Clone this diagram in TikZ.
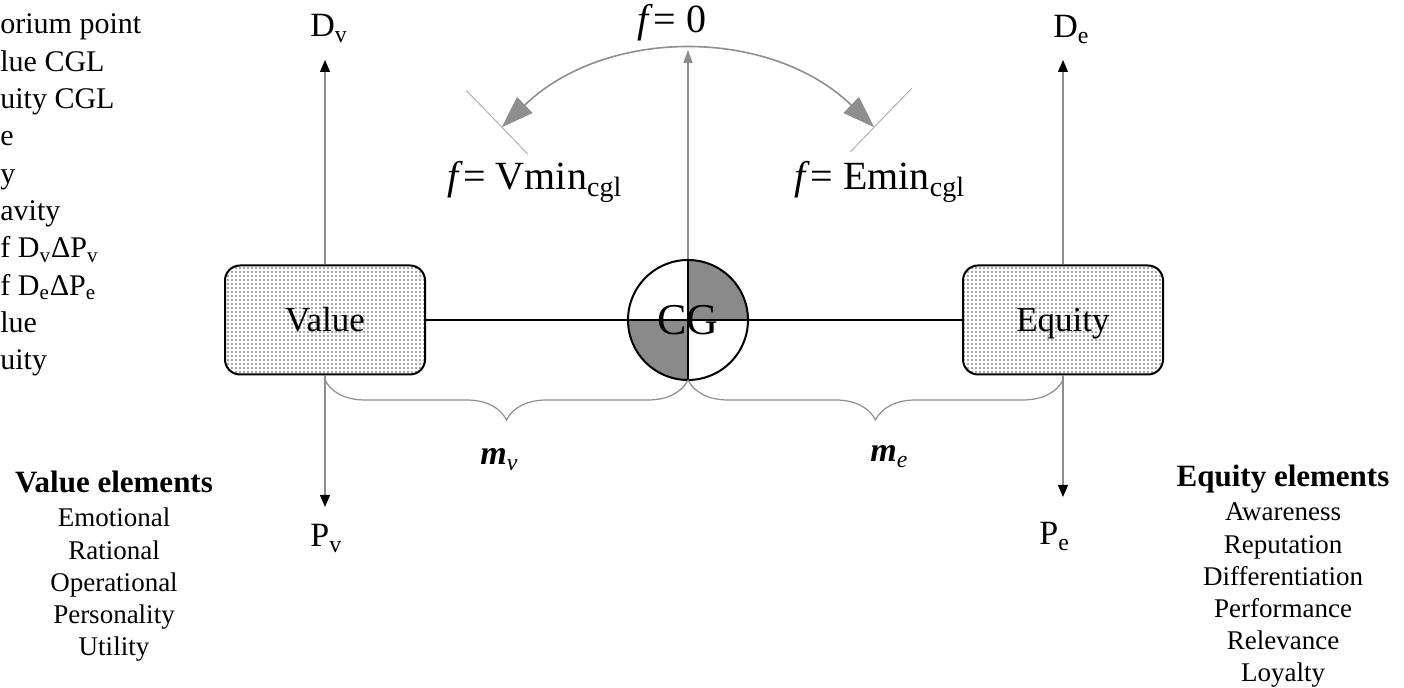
\documentclass[tikz,border=0pt]{standalone}
\usepackage{fontspec}
\setmainfont{Liberation Serif}
\usetikzlibrary{arrows.meta, positioning, patterns.meta, decorations.pathreplacing}
\definecolor{linegray}{HTML}{8E8E8E}
\definecolor{cgshade}{HTML}{8A8A8A}

\tikzset{
  massbox/.style={draw, line width=1pt, rounded corners=7.5pt,
    minimum width=100pt, minimum height=54.5pt,
    pattern={Dots[distance=2pt, radius=0.4pt]}, pattern color=black!70,
    font=\fontsize{17.5}{20}\selectfont, text height=11.5pt, text depth=0pt},
  axisarrow/.style={draw=linegray, line width=0.6pt,
    -{Triangle[length=6pt, width=5pt, color=black]}},
  swing/.style={draw=linegray, line width=0.8pt,
    {Triangle[length=16pt, width=11pt]}-{Triangle[length=16pt, width=11pt]}},
  tickline/.style={draw=linegray!70, line width=0.5pt},
  massbrace/.style={draw=linegray, line width=0.6pt,
    decorate, decoration={brace, mirror, amplitude=20pt}},
  axislabel/.style={anchor=base west, inner sep=0, font=\fontsize{17}{20}\selectfont},
  flabel/.style={anchor=base, inner sep=0, font=\fontsize{20}{24}\selectfont},
  masslabel/.style={anchor=base west, inner sep=0, font=\fontsize{17}{20}\selectfont},
  legendtext/.style={anchor=base west, inner sep=0, font=\fontsize{15}{18}\selectfont},
  elemhead/.style={anchor=base, inner sep=0, font=\bfseries\fontsize{15.5}{18}\selectfont},
  elemitem/.style={anchor=base, inner sep=0, font=\fontsize{13.5}{16}\selectfont},
}

\begin{document}
\begin{tikzpicture}[x=0.5pt, y=0.5pt]
  \useasboundingbox (0,0) rectangle (1404,688);

  % legend, cut at the left edge
  \foreach \txt [count=\i from 0] in {orium point, lue CGL, uity CGL, e, y, avity,
      {f D\textsubscript{v}ΔP\textsubscript{v}}, {f D\textsubscript{e}ΔP\textsubscript{e}}, lue, uity}
    \node[legendtext] (leg\i) at (0, 654-37.3*\i) {\txt};

  % centre of gravity
  \coordinate (cg) at (688, 368);
  \fill[cgshade] (cg) -- ++(0:30pt) arc[start angle=0, end angle=90, radius=30pt] -- cycle;
  \fill[cgshade] (cg) -- ++(180:30pt) arc[start angle=180, end angle=270, radius=30pt] -- cycle;

  % the two masses
  \node[massbox] (value) at (325, 368) {Value};
  \node[massbox] (equity) at (1063, 368) {Equity};
  \draw[line width=0.7pt] (value) -- (equity);

  \node[circle, draw, line width=1pt, minimum size=60pt, inner sep=0,
        font=\fontsize{22}{26}\selectfont] (cgc) at (cg) {CG};
  \draw[line width=0.7pt] (cgc.north) -- (cgc.south);

  % axes
  \coordinate (dv) at (325, 628);
  \coordinate (pv) at (325, 181);
  \coordinate (de) at (1063, 628);
  \coordinate (pe) at (1063, 191);
  \draw[axisarrow] (value.north) -- (dv);
  \draw[axisarrow] (value.south) -- (pv);
  \draw[axisarrow] (equity.north) -- (de);
  \draw[axisarrow] (equity.south) -- (pe);
  \node[axislabel] (dvlab) at (310, 651) {D\textsubscript{v}};
  \node[axislabel] (pvlab) at (310, 141) {P\textsubscript{v}};
  \node[axislabel] (delab) at (1053, 650) {D\textsubscript{e}};
  \node[axislabel] (pelab) at (1039, 143) {P\textsubscript{e}};

  % f swing
  \coordinate (ftop) at (688, 638);
  \draw[draw=linegray, line width=0.8pt, -{Triangle[length=6.5pt, width=4.5pt]}] (cgc.north) -- (ftop);
  \draw[swing] (cg) ++(134:134pt) arc[start angle=134, end angle=46, radius=134pt];
  \draw[tickline] (cg) ++(134:115.5pt) -- ++(134:44pt);
  \draw[tickline] (cg) ++(46:117pt) -- ++(46:44pt);
  \node[flabel] (fzero) at (672, 655) {\textit{f}= 0};
  \node[flabel] (fvmin) at (535, 498) {\textit{f}= Vmin\textsubscript{cgl}};
  \node[flabel] (femin) at (880, 498) {\textit{f}= Emin\textsubscript{cgl}};

  % moment arms
  \coordinate (vb) at (325, 308);
  \coordinate (cb) at (688, 308);
  \coordinate (eb) at (1063, 308);
  \draw[massbrace] (vb) -- (cb);
  \draw[massbrace] (cb) -- (eb);
  \node[masslabel] (mv) at (480, 223) {\textbf{\textit{m}}\textsubscript{\textit{v}}};
  \node[masslabel] (me) at (870, 226) {\textbf{\textit{m}}\textsubscript{\textit{e}}};

  % element lists
  \node[elemhead] (vhead) at (114, 195) {Value elements};
  \foreach \item [count=\i from 0] in {Emotional, Rational, Operational, Personality, Utility}
    \node[elemitem] (vitem\i) at (114, 161-32.2*\i) {\item};
  \node[elemhead] (ehead) at (1283, 201) {Equity elements};
  \foreach \item [count=\i from 0] in {Awareness, Reputation, Differentiation, Performance, Relevance, Loyalty}
    \node[elemitem] (eitem\i) at (1283, 167-32.2*\i) {\item};
\end{tikzpicture}
\end{document}
